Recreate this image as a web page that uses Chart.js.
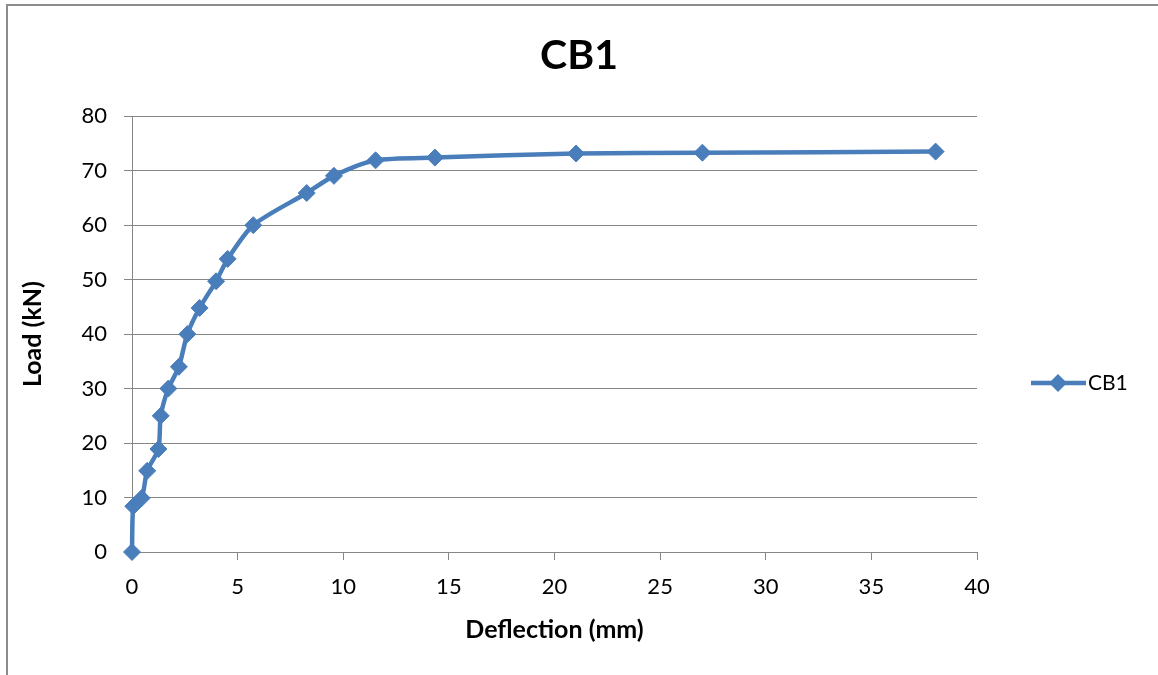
<!DOCTYPE html>
<html>
<head>
<meta charset="utf-8">
<script src="https://cdn.jsdelivr.net/npm/chart.js@4/dist/chart.umd.min.js"></script>
<style>
  html, body { margin: 0; padding: 0; background: #ffffff; }
  #wrap { position: relative; width: 1158px; height: 675px; overflow: hidden; background: #fff; }
  #frame { position: absolute; left: 6px; top: 4px; width: 1200px; height: 700px;
           border-left: 2px solid #8c8c8c; border-top: 2px solid #8c8c8c; pointer-events: none; }
  canvas { position: absolute; left: 0; top: 0; }
</style>
</head>
<body>
<div id="wrap">
  <canvas id="c" width="1158" height="675"></canvas>
  <div id="frame"></div>
</div>
<script>
const chartTitle = 'CB1';
const seriesName = 'CB1';
const xTitle = 'Deflection (mm)';
const yTitle = 'Load (kN)';
const deflection = [0, 0.06, 0.46, 0.72, 1.25, 1.36, 1.72, 2.22, 2.62, 3.2, 3.98, 4.53, 5.74, 8.27, 9.56, 11.53, 14.34, 21.02, 27.0, 38.04];
const load = [0, 8.4, 9.9, 14.9, 18.9, 25, 30, 34, 40, 44.8, 49.7, 53.8, 60, 65.9, 69.05, 71.9, 72.4, 73.15, 73.3, 73.5];
const xTicks = [0, 5, 10, 15, 20, 25, 30, 35, 40];
const yTicks = [0, 10, 20, 30, 40, 50, 60, 70, 80];

const blue = '#4a7ebb';
const gridColor = '#868686';
const fontFamily = 'Lato, "Open Sans", sans-serif';

const points = deflection.map((x, i) => ({ x: x, y: load[i] }));

const legendPlugin = {
  id: 'customLegend',
  afterDraw(chart) {
    const ctx = chart.ctx;
    const ds = chart.data.datasets[0];
    const y = 383;
    ctx.save();
    ctx.strokeStyle = blue;
    ctx.lineWidth = 4.5;
    ctx.beginPath();
    ctx.moveTo(1031, y);
    ctx.lineTo(1086, y);
    ctx.stroke();
    ctx.fillStyle = blue;
    ctx.beginPath();
    ctx.moveTo(1058, y - 9); ctx.lineTo(1067, y); ctx.lineTo(1058, y + 9); ctx.lineTo(1049, y); ctx.closePath();
    ctx.fill();
    ctx.fillStyle = '#000';
    ctx.font = '21px ' + fontFamily;
    ctx.textBaseline = 'middle';
    ctx.textAlign = 'left';
    ctx.fillText(ds.label, 1088, y);
    ctx.restore();
  }
};

new Chart(document.getElementById('c'), {
  type: 'line',
  data: {
    datasets: [{
      label: seriesName,
      data: points,
      borderColor: blue,
      backgroundColor: blue,
      borderWidth: 4.5,
      pointStyle: 'rectRot',
      pointRadius: 8.5,
      pointBorderWidth: 1,
      pointBackgroundColor: blue,
      pointBorderColor: blue,
      tension: 0.25,
      clip: false,
      fill: false,
      yAxisID: 'y'
    }]
  },
  options: {
    responsive: false,
    animation: false,
    devicePixelRatio: 1,
    layout: { padding: { left: 0, right: 0, top: 0, bottom: 0 } },
    plugins: {
      legend: { display: false },
      tooltip: { enabled: false },
      title: {
        display: true,
        text: chartTitle,
        color: '#000',
        font: { family: fontFamily, size: 41, weight: 'bold', lineHeight: 1.2 },
        padding: { top: 31, bottom: 36 }
      }
    },
    scales: {
      x: {
        type: 'linear',
        min: 0, max: 40,
        afterFit(scale) { scale.height = 123; },
        afterBuildTicks(scale) { scale.ticks = xTicks.map(v => ({ value: v })); },
        grid: { drawOnChartArea: false, drawTicks: true, tickLength: 8, color: gridColor, lineWidth: 1 },
        border: { display: true, color: gridColor, width: 1 },
        ticks: { color: '#000', font: { family: fontFamily, size: 22 }, padding: 14, maxRotation: 0 },
        title: { display: true, text: xTitle, color: '#000',
                 font: { family: fontFamily, size: 25, weight: 'bold', lineHeight: 1.2 },
                 padding: { top: 0, bottom: 30 } }
      },
      y: {
        type: 'linear',
        position: 'left',
        min: 0, max: 80,
        afterFit(scale) { scale.width = 132; },
        afterBuildTicks(scale) { scale.ticks = yTicks.map(v => ({ value: v })); },
        grid: { drawOnChartArea: true, drawTicks: true, tickLength: 8, color: gridColor, lineWidth: 1 },
        border: { display: true, color: gridColor, width: 1 },
        ticks: { color: '#000', font: { family: fontFamily, size: 22 }, padding: 17 },
        title: { display: true, text: yTitle, color: '#000',
                 font: { family: fontFamily, size: 25, weight: 'bold', lineHeight: 1.2 },
                 padding: { top: 18, bottom: 0 } }
      },
      legendSpace: {
        type: 'linear',
        position: 'right',
        min: 0, max: 1,
        afterFit(scale) { scale.width = 181; },
        grid: { display: false, drawOnChartArea: false, drawTicks: false },
        border: { display: false },
        ticks: { display: false },
        title: { display: false }
      }
    }
  },
  plugins: [legendPlugin]
});
</script>
</body>
</html>
